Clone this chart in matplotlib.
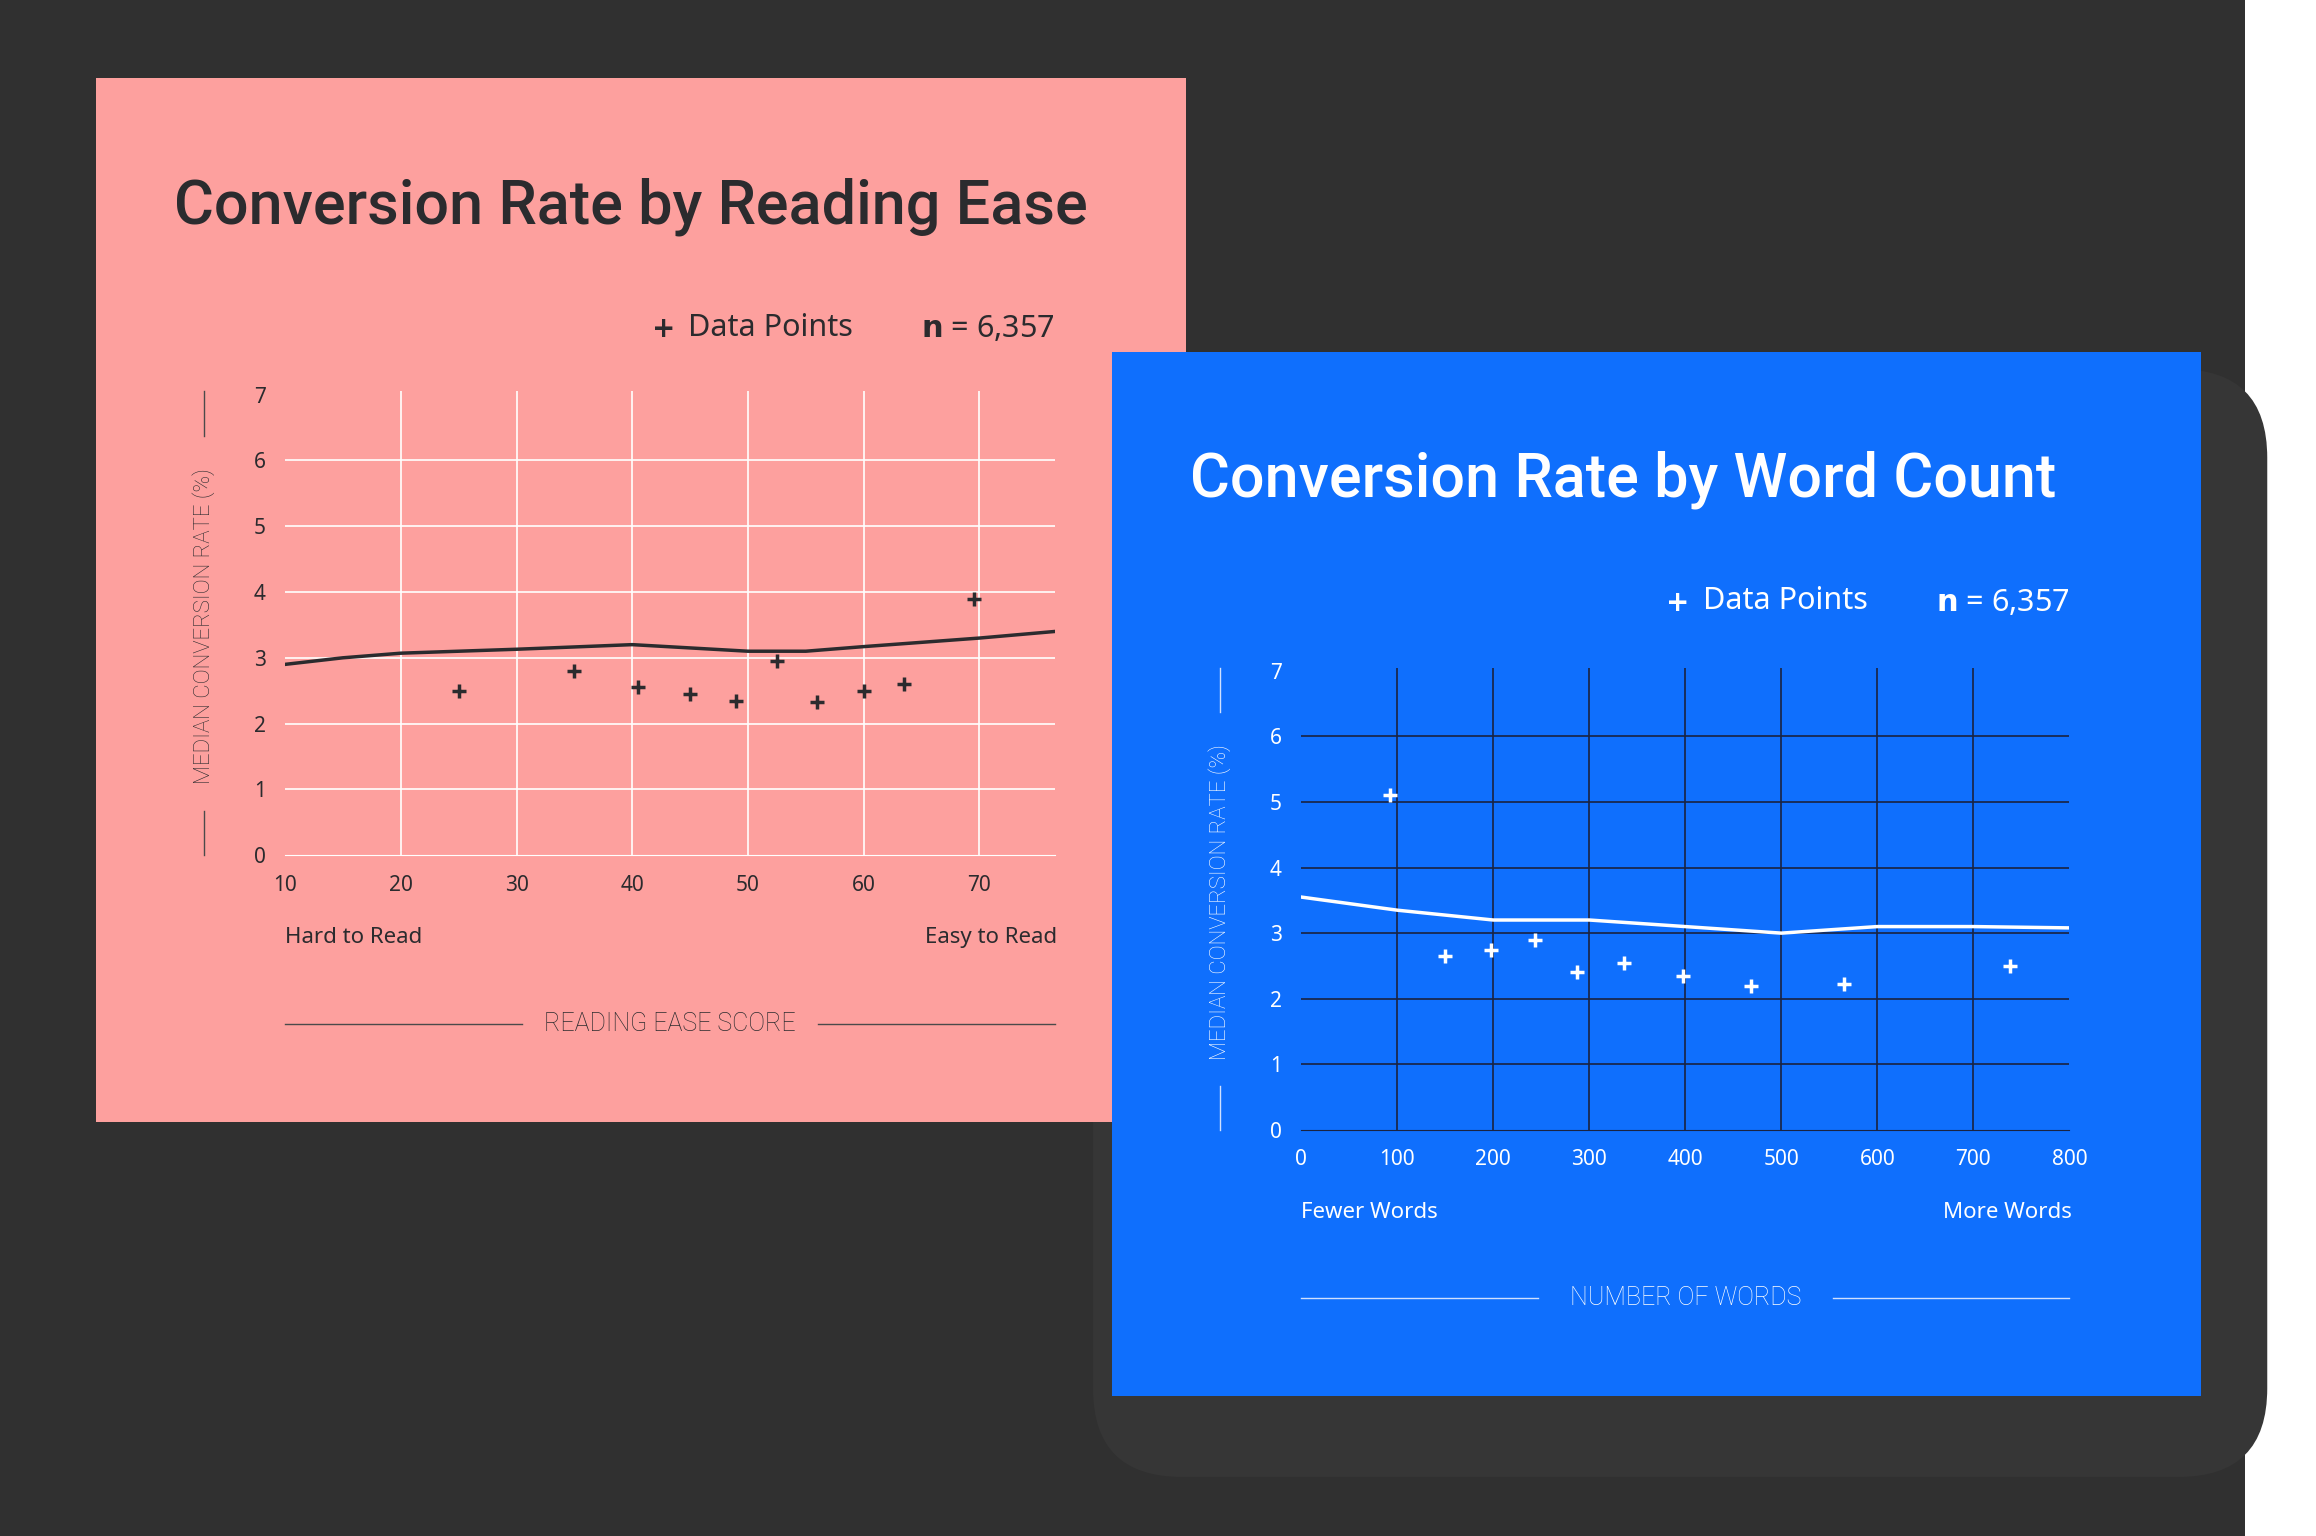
import matplotlib.pyplot as plt
from matplotlib.patches import Rectangle, FancyBboxPatch

# data
ease_x = [25, 35, 40.5, 45, 49, 52.5, 56, 60, 63.5, 69.5]
ease_y = [2.5, 2.8, 2.55, 2.45, 2.35, 2.95, 2.33, 2.5, 2.6, 3.9]
ease_line_x = [10, 15, 20, 30, 40, 45, 50, 55, 60, 70, 76.5]
ease_line_y = [2.9, 3.0, 3.07, 3.13, 3.2, 3.15, 3.1, 3.1, 3.17, 3.3, 3.4]
ease_ticks = [10, 20, 30, 40, 50, 60, 70]

words_x = [92, 150, 198, 243, 287, 336, 398, 468, 565, 738]
words_y = [5.1, 2.65, 2.75, 2.9, 2.4, 2.55, 2.35, 2.2, 2.22, 2.5]
words_line_x = [0, 100, 200, 300, 400, 500, 600, 700, 800]
words_line_y = [3.55, 3.35, 3.2, 3.2, 3.1, 3.0, 3.1, 3.1, 3.08]
words_ticks = [0, 100, 200, 300, 400, 500, 600, 700, 800]

y_ticks = [0, 1, 2, 3, 4, 5, 6, 7]

W, H = 1568, 1040
DARK = '#303030'
PINK = '#fda09e'
BLUE = '#0f6ffd'
INK = '#2b2b2e'
NAVY = '#1a2340'
BODY = 'Noto Sans'
COND = 'Roboto'

fig = plt.figure(figsize=(23.16, 15.36), dpi=100)
fig.patch.set_facecolor(DARK)


def bg_axes(z):
    ax = fig.add_axes([0, 0, 1, 1], zorder=z)
    ax.set_xlim(0, W)
    ax.set_ylim(H, 0)
    ax.axis('off')
    ax.patch.set_alpha(0)
    return ax


def chart_axes(x0, x1, y_top, y_bot, z):
    return fig.add_axes([x0 / W, 1 - y_bot / H, (x1 - x0) / W, (y_bot - y_top) / H], zorder=z)


def panel(ax, x, y, w, h, fc, tc, title, label, left_txt, right_txt, ax_top, ax_bot, ax_l, ax_r, line_c):
    ax.add_patch(Rectangle((x, y), w, h, fc=fc, ec='none'))
    ax.text(x + 53, y + 87, title, fontsize=44, color=tc, fontfamily=COND,
            fontweight='medium', va='center', ha='left')
    ax.text(ax_r - 265, y + 170, '+', fontsize=20, color=tc, fontweight='bold', va='center', ha='center')
    ax.text(ax_r - 248, y + 169, 'Data Points', fontsize=22, color=tc, fontfamily=BODY, va='center')
    ax.text(ax_r, y + 170, r'$\mathbf{n}$ = 6,357', fontsize=22, color=tc, fontfamily=BODY,
            va='center', ha='right')
    ax.text(ax_l, ax_bot + 56, left_txt, fontsize=16, color=tc, fontfamily=BODY, va='center')
    ax.text(ax_r + 2, ax_bot + 56, right_txt, fontsize=16, color=tc, fontfamily=BODY, va='center', ha='right')
    mid = (ax_l + ax_r) / 2
    ax.text(mid, ax_bot + 114, label, fontsize=18, color=tc, fontfamily=COND,
            fontweight='light', va='center', ha='center')
    ax.plot([ax_l, mid - 100], [ax_bot + 114, ax_bot + 114], color=line_c, lw=1)
    ax.plot([mid + 100, ax_r], [ax_bot + 114, ax_bot + 114], color=line_c, lw=1)
    yl = ax_l - 55
    ax.text(yl, (ax_top + ax_bot) / 2 + 2, 'MEDIAN CONVERSION RATE (%)', fontsize=16, color=tc,
            fontfamily=COND, fontweight='light', rotation=90, va='center', ha='center')
    ax.plot([yl, yl], [ax_top, ax_top + 30], color=line_c, lw=1)
    ax.plot([yl, yl], [ax_bot - 30, ax_bot], color=line_c, lw=1)


def chart(ax, xs, ys, lx, ly, ticks, xlim, tc, grid_c, mark_c):
    ax.set_facecolor('none')
    ax.set_xlim(*xlim)
    ax.set_ylim(0, 7.05)
    for t in ticks:
        if xlim[0] < t < xlim[1]:
            ax.axvline(t, color=grid_c, lw=1.2, zorder=1)
    for t in y_ticks[1:7]:
        ax.axhline(t, color=grid_c, lw=1.2, zorder=1)
    ax.plot(lx, ly, color=mark_c, lw=2.5, zorder=3)
    ax.scatter(xs, ys, marker='+', s=110, linewidths=2.5, color=mark_c, zorder=4)
    for s in ['top', 'right', 'left']:
        ax.spines[s].set_visible(False)
    ax.spines['bottom'].set_color(grid_c)
    ax.set_xticks(ticks)
    ax.set_yticks(y_ticks)
    ax.tick_params(length=0, colors=tc, labelsize=15, pad=14)
    for lab in ax.get_xticklabels() + ax.get_yticklabels():
        lab.set_fontfamily(BODY)


bg = bg_axes(0)
bg.add_patch(Rectangle((1520, 0), 48, H, fc='white', ec='none'))
bg.add_patch(FancyBboxPatch((740, 250), 795, 750, boxstyle='round,pad=0,rounding_size=60',
                            fc='#363636', ec='none'))
panel(bg, 65, 53, 738, 707, PINK, INK, 'Conversion Rate by Reading Ease', 'READING EASE SCORE',
      'Hard to Read', 'Easy to Read', 265, 579, 193, 714, '#4a4a4a')

ax1 = chart_axes(193, 714, 265, 579, 1)
chart(ax1, ease_x, ease_y, ease_line_x, ease_line_y, ease_ticks, (10, 76.5), INK, 'white', INK)

bg2 = bg_axes(2)
panel(bg2, 753, 238, 737, 707, BLUE, 'white', 'Conversion Rate by Word Count', 'NUMBER OF WORDS',
      'Fewer Words', 'More Words', 452, 765, 881, 1401, '#cfe0ff')

ax2 = chart_axes(881, 1401, 452, 765, 3)
chart(ax2, words_x, words_y, words_line_x, words_line_y, words_ticks, (0, 800), 'white', NAVY, 'white')

fig.savefig('out.png', dpi=100, facecolor=fig.get_facecolor())
